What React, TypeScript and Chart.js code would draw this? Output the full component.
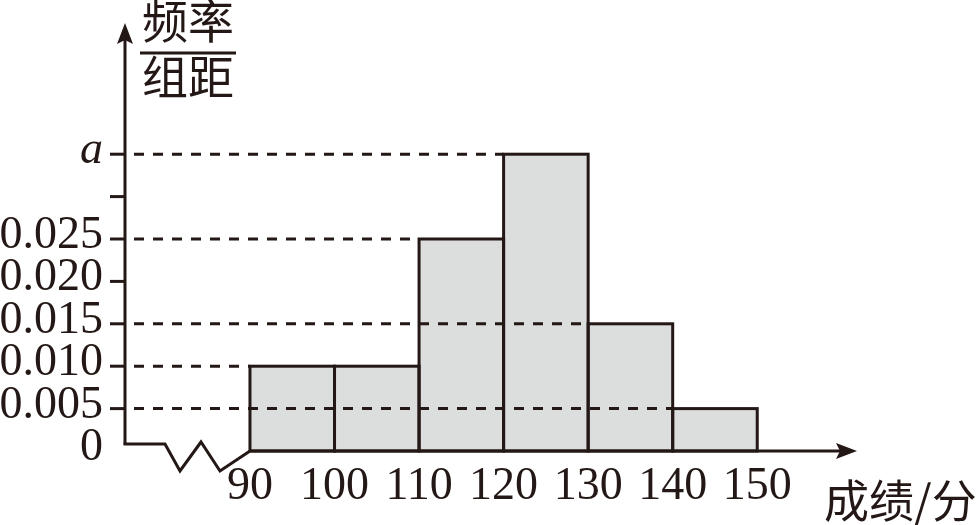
import React, { useEffect, useRef } from "react";
import { Chart, registerables } from "chart.js";

Chart.register(...registerables);

// ---- data ----
const binStarts = [90, 100, 110, 120, 130, 140];
const binWidth = 10;
const frequencies = [0.01, 0.01, 0.025, 0.035, 0.015, 0.005];
const xTickValues = [90, 100, 110, 120, 130, 140, 150];
const yTickValues = [0, 0.005, 0.01, 0.015, 0.02, 0.025, 0.03, 0.035];
const yTickLabels = ["0", "0.005", "0.010", "0.015", "0.020", "0.025", "", "a"];
const yTitleTop = "频率";
const yTitleBottom = "组距";
const xTitle = "成绩/分";

// ---- style ----
const INK = "#231815";
const FILL = "#dcdddd";
const SERIF = "'Liberation Serif', 'DejaVu Serif', serif";
const CJK = "'Noto Sans CJK SC', 'Noto Sans', sans-serif";

const decorPlugin = {
  id: "decor",
  afterDatasetsDraw(chart: any) {
    const ctx = chart.ctx as CanvasRenderingContext2D;
    const area = chart.chartArea;
    const xs = chart.scales.x;
    const ys = chart.scales.y;
    const left = area.left + 1;
    const y0 = ys.getPixelForValue(0);
    const meta = chart.getDatasetMeta(0);

    ctx.save();
    ctx.strokeStyle = INK;
    ctx.fillStyle = INK;
    ctx.lineWidth = 3;
    ctx.lineJoin = "miter";
    ctx.lineCap = "butt";

    // dashed reference lines from axis to each bar's left edge
    const seen: number[] = [];
    meta.data.forEach((el: any, i: number) => {
      const h = frequencies[i];
      if (seen.indexOf(h) >= 0) return;
      seen.push(h);
      const p = el.getProps(["x", "y", "width"], true);
      ctx.save();
      ctx.setLineDash([10, 9]);
      ctx.lineDashOffset = 10;
      ctx.beginPath();
      ctx.moveTo(left, p.y);
      ctx.lineTo(p.x - p.width / 2, p.y);
      ctx.stroke();
      ctx.restore();
    });

    // bar outlines
    meta.data.forEach((el: any) => {
      const p = el.getProps(["x", "y", "base", "width"], true);
      ctx.strokeRect(p.x - p.width / 2, p.y, p.width, p.base - p.y);
    });

    // y tick marks
    yTickValues.forEach((v) => {
      if (v === 0) return;
      const y = ys.getPixelForValue(v);
      ctx.beginPath();
      ctx.moveTo(left - 15, y);
      ctx.lineTo(left, y);
      ctx.stroke();
    });

    // y axis with arrow
    const tipY = area.top - 4;
    ctx.beginPath();
    ctx.moveTo(left, y0 - 7);
    ctx.lineTo(left, tipY + 12);
    ctx.stroke();
    ctx.beginPath();
    ctx.moveTo(left, tipY);
    ctx.lineTo(left + 8, tipY + 21);
    ctx.lineTo(left, tipY + 17);
    ctx.lineTo(left - 8, tipY + 21);
    ctx.closePath();
    ctx.fill();

    // axis break + x axis with arrow
    const x90 = xs.getPixelForValue(xTickValues[0]);
    const tipX = area.right;
    ctx.beginPath();
    ctx.moveTo(left - 1.5, y0 - 7);
    ctx.lineTo(left + 40, y0 - 7);
    ctx.lineTo(left + 55, y0 + 20);
    ctx.lineTo(left + 76, y0 - 9);
    ctx.lineTo(left + 95, y0 + 20);
    ctx.lineTo(x90, y0);
    ctx.lineTo(tipX - 12, y0);
    ctx.stroke();
    ctx.beginPath();
    ctx.moveTo(tipX, y0);
    ctx.lineTo(tipX - 21, y0 - 8);
    ctx.lineTo(tipX - 17, y0);
    ctx.lineTo(tipX - 21, y0 + 8);
    ctx.closePath();
    ctx.fill();

    // titles
    ctx.font = `46px ${CJK}`;
    ctx.textAlign = "center";
    ctx.textBaseline = "alphabetic";
    ctx.fillText(yTitleTop, 188, 38);
    ctx.fillText(yTitleBottom, 188, 94);
    ctx.beginPath();
    ctx.moveTo(140, 53);
    ctx.lineTo(236, 53);
    ctx.stroke();
    ctx.font = `45px ${CJK}`;
    ctx.textAlign = "left";
    ctx.fillText(xTitle, 824, 518);
    ctx.restore();
  },
};

export default function App() {
  const ref = useRef<HTMLCanvasElement | null>(null);

  useEffect(() => {
    const canvas = ref.current;
    if (!canvas) return;
    const chart = new Chart(canvas, {
      type: "bar",
      data: {
        datasets: [
          {
            data: binStarts.map((s, i) => ({ x: s + binWidth / 2, y: frequencies[i] })),
            backgroundColor: FILL,
            borderWidth: 0,
            barPercentage: 1,
            categoryPercentage: 1,
            inflateAmount: 0,
          } as any,
        ],
      },
      options: {
        responsive: false,
        animation: false,
        events: [],
        layout: { padding: { left: 0, right: 123, top: 27, bottom: 0 } },
        plugins: { legend: { display: false }, tooltip: { enabled: false } },
        scales: {
          x: {
            type: "linear",
            min: 75.1,
            max: 161.8,
            offset: false,
            afterBuildTicks: (s: any) => {
              s.ticks = xTickValues.map((v) => ({ value: v }));
            },
            afterFit: (s: any) => {
              s.height = 74;
              s.paddingLeft = 0;
              s.paddingRight = 0;
            },
            grid: { display: false, drawTicks: false },
            border: { display: false },
            ticks: {
              autoSkip: false,
              maxRotation: 0,
              minRotation: 0,
              padding: 8,
              color: INK,
              font: { family: SERIF, size: 46 },
              callback: (v: any) => String(v),
            },
          },
          y: {
            min: 0,
            max: 0.05,
            afterBuildTicks: (s: any) => {
              s.ticks = yTickValues.map((v) => ({ value: v }));
            },
            afterFit: (s: any) => {
              s.width = 124;
              s.paddingTop = 0;
              s.paddingBottom = 0;
            },
            grid: { display: false, drawTicks: false },
            border: { display: false },
            ticks: {
              autoSkip: false,
              padding: 21,
              labelOffset: -3,
              color: INK,
              font: (c: any) => ({
                family: SERIF,
                size: 46,
                style: c.tick && c.tick.value === 0.035 ? "italic" : "normal",
              }),
              callback: (_v: any, i: number) => yTickLabels[i],
            },
          },
        },
      } as any,
      plugins: [decorPlugin],
    });
    return () => chart.destroy();
  }, []);

  return (
    <div style={{ position: "absolute", left: 0, top: 0, width: 980, height: 525 }}>
      <canvas ref={ref} width={980} height={525} />
    </div>
  );
}
